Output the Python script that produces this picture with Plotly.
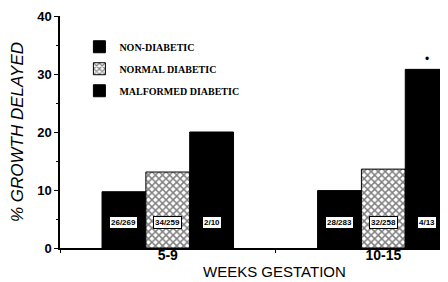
import plotly.graph_objects as go

groups = [0, 1]
group_labels = ["5-9", "10-15"]
series_names = ["NON-DIABETIC", "NORMAL DIABETIC", "MALFORMED DIABETIC"]
non_diabetic = [9.7, 9.9]
normal_diabetic = [13.1, 13.6]
malformed_diabetic = [20.0, 30.8]
counts_non = ["26/269", "28/283"]
counts_normal = ["34/259", "32/258"]
counts_malformed = ["2/10", "4/13"]
significance = ["", "•"]

BARGAP = 0.39
bw = (1 - BARGAP) / 3

fig = go.Figure()
fig.add_trace(go.Bar(x=groups, y=non_diabetic, name=series_names[0], legendgroup="a",
                     marker=dict(color="black", line=dict(color="black", width=1))))
fig.add_trace(go.Bar(x=groups, y=normal_diabetic, name=series_names[1], legendgroup="b",
                     marker=dict(color="white", line=dict(color="black", width=1),
                                 pattern=dict(shape="x", fgcolor="black", bgcolor="white",
                                              size=5, solidity=0.5))))
fig.add_trace(go.Bar(x=groups, y=malformed_diabetic, name=series_names[2], legendgroup="c",
                     text=significance, textposition="outside", cliponaxis=False,
                     textfont=dict(size=12, color="black"),
                     marker=dict(color="black", line=dict(color="black", width=1))))

annotations = []
for series_idx, labels in enumerate([counts_non, counts_normal, counts_malformed]):
    for g, lab in zip(groups, labels):
        annotations.append(dict(
            x=g + (series_idx - 1) * bw, y=4.4, xref="x", yref="y", text=lab,
            showarrow=False, bgcolor="white", bordercolor="black", borderwidth=1, borderpad=1,
            font=dict(family="Liberation Sans Narrow, Arial", size=8, color="black", weight="bold")))
annotations.append(dict(
    x=0.554, y=-0.103, xref="paper", yref="paper", text="WEEKS GESTATION", showarrow=False,
    xanchor="center", yanchor="middle",
    font=dict(family="Liberation Sans Narrow, Arial", size=15, color="black")))

fig.update_layout(
    width=440, height=274,
    margin=dict(l=52, r=0, t=8, b=34),
    paper_bgcolor="white", plot_bgcolor="white",
    barmode="group", bargap=BARGAP, bargroupgap=0,
    showlegend=True,
    legend=dict(x=0.05, y=0.93, xanchor="left", yanchor="top", tracegroupgap=3,
                bgcolor="rgba(0,0,0,0)",
                font=dict(family="Liberation Serif, Times New Roman", size=10, color="black", weight="bold")),
    annotations=annotations,
    font=dict(family="Liberation Sans, Arial", color="black"),
)
fig.update_xaxes(range=[-0.5, 1.3], tickvals=groups, ticktext=group_labels, ticks="",
                 showline=True, linecolor="black", linewidth=1.5, showgrid=False, zeroline=False,
                 tickfont=dict(family="Liberation Sans, Arial", size=14, color="black", weight="bold"),
                 ticklabelstandoff=-7,
                 minor=dict(tick0=0.5, dtick=1, ticks="outside", ticklen=3, tickcolor="black", showgrid=False))
fig.update_yaxes(range=[0, 40], tickvals=[0, 10, 20, 30, 40], ticks="outside", ticklen=4,
                 tickcolor="black", showline=True, linecolor="black", linewidth=1.5,
                 showgrid=False, zeroline=False,
                 tickfont=dict(family="Liberation Sans, Arial", size=13, color="black", weight="bold"),
                 minor=dict(dtick=5, ticks="outside", ticklen=2, tickcolor="black", showgrid=False),
                 title=dict(text="<i>% GROWTH DELAYED</i>", standoff=10,
                            font=dict(family="Liberation Sans, Arial", size=17, color="black")))

fig.write_html("out.html")
